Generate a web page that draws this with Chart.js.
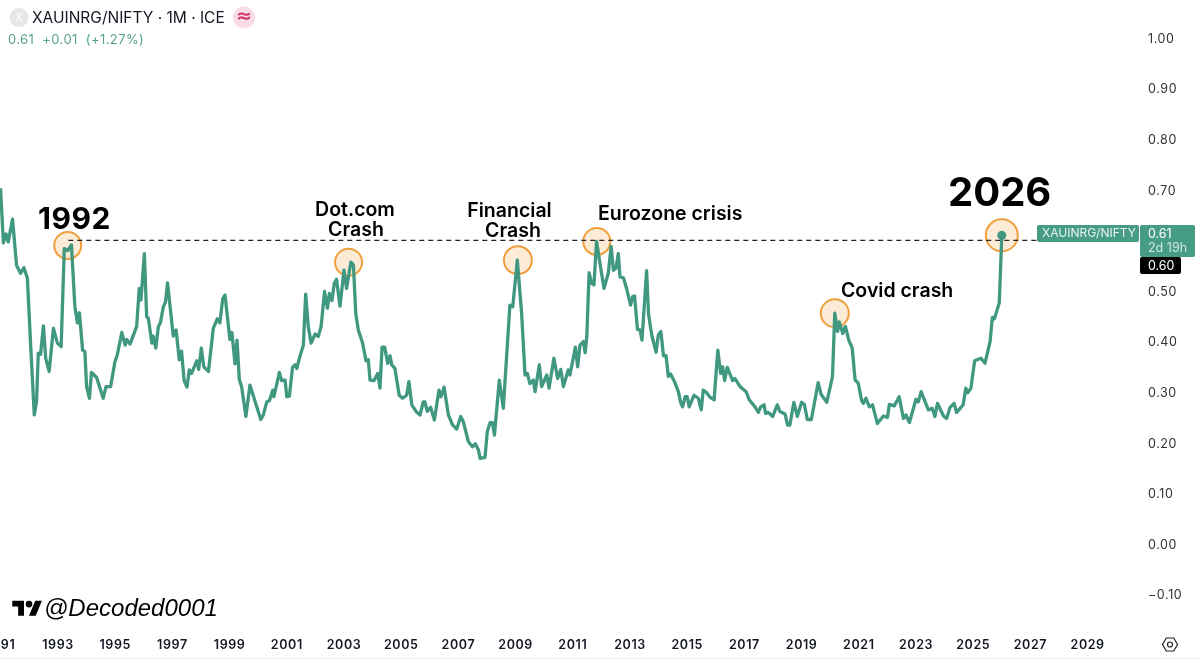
<!DOCTYPE html>
<html>
<head>
<meta charset="utf-8">
<title>XAUINRG/NIFTY</title>
<script src="https://cdn.jsdelivr.net/npm/chart.js@4/dist/chart.umd.min.js"></script>
<style>
  html, body { margin: 0; padding: 0; background: #fff; }
  #wrap { width: 1200px; height: 659px; overflow: hidden; }
</style>
</head>
<body>
<div id="wrap"><canvas id="myChart"></canvas></div>
<script>
// Monthly closes of the ratio, turning points only
const years = [
  1990.99, 1991.09, 1991.18, 1991.26, 1991.41, 1991.55, 1991.69, 1991.81, 1991.93, 1992.04,
  1992.17, 1992.25, 1992.31, 1992.39, 1992.49, 1992.57, 1992.69, 1992.84, 1992.98, 1993.11,
  1993.22, 1993.34, 1993.47, 1993.59, 1993.68, 1993.75, 1993.86, 1993.94, 1994.00, 1994.10,
  1994.17, 1994.35, 1994.58, 1994.68, 1994.84, 1994.99, 1995.07, 1995.23, 1995.35, 1995.41,
  1995.52, 1995.75, 1995.84, 1995.90, 1996.02, 1996.10, 1996.16, 1996.28, 1996.33, 1996.42,
  1996.51, 1996.58, 1996.68, 1996.76, 1996.83, 1997.03, 1997.13, 1997.24, 1997.32, 1997.41,
  1997.51, 1997.59, 1997.67, 1997.85, 1997.92, 1998.01, 1998.10, 1998.26, 1998.43, 1998.57,
  1998.66, 1998.76, 1998.84, 1999.01, 1999.08, 1999.19, 1999.26, 1999.34, 1999.42, 1999.57,
  1999.71, 2000.09, 2000.18, 2000.30, 2000.39, 2000.51, 2000.55, 2000.74, 2000.82, 2000.94,
  2001.00, 2001.09, 2001.20, 2001.29, 2001.35, 2001.44, 2001.58, 2001.66, 2001.75, 2001.85,
  2001.99, 2002.10, 2002.20, 2002.32, 2002.42, 2002.49, 2002.58, 2002.66, 2002.74, 2002.86,
  2003.00, 2003.09, 2003.24, 2003.33, 2003.41, 2003.50, 2003.65, 2003.77, 2003.85, 2003.91,
  2004.05, 2004.18, 2004.26, 2004.33, 2004.42, 2004.53, 2004.61, 2004.67, 2004.78, 2004.93,
  2005.05, 2005.19, 2005.27, 2005.37, 2005.52, 2005.66, 2005.77, 2005.83, 2005.91, 2006.03,
  2006.16, 2006.32, 2006.39, 2006.50, 2006.65, 2006.79, 2006.94, 2007.08, 2007.17, 2007.35,
  2007.49, 2007.59, 2007.70, 2007.76, 2007.93, 2008.01, 2008.11, 2008.19, 2008.26, 2008.43,
  2008.57, 2008.80, 2008.90, 2009.06, 2009.21, 2009.33, 2009.41, 2009.50, 2009.62, 2009.68,
  2009.83, 2009.91, 2010.09, 2010.17, 2010.34, 2010.47, 2010.58, 2010.67, 2010.84, 2010.90,
  2011.09, 2011.17, 2011.25, 2011.37, 2011.43, 2011.49, 2011.57, 2011.66, 2011.74, 2011.83,
  2011.95, 2012.09, 2012.24, 2012.34, 2012.42, 2012.51, 2012.59, 2012.65, 2012.77, 2012.88,
  2013.02, 2013.09, 2013.16, 2013.26, 2013.35, 2013.42, 2013.58, 2013.65, 2013.76, 2013.91,
  2013.99, 2014.08, 2014.17, 2014.26, 2014.34, 2014.42, 2014.57, 2014.69, 2014.78, 2014.84,
  2014.93, 2015.00, 2015.07, 2015.24, 2015.39, 2015.49, 2015.56, 2015.68, 2015.80, 2015.94,
  2016.07, 2016.17, 2016.24, 2016.31, 2016.40, 2016.59, 2016.67, 2016.85, 2017.06, 2017.17,
  2017.37, 2017.49, 2017.57, 2017.69, 2017.74, 2017.84, 2017.99, 2018.15, 2018.24, 2018.42,
  2018.51, 2018.59, 2018.73, 2018.85, 2019.00, 2019.10, 2019.20, 2019.34, 2019.58, 2019.68,
  2019.88, 2020.08, 2020.16, 2020.26, 2020.32, 2020.44, 2020.53, 2020.65, 2020.77, 2020.87,
  2020.98, 2021.10, 2021.16, 2021.25, 2021.37, 2021.48, 2021.65, 2021.86, 2022.00, 2022.07,
  2022.24, 2022.41, 2022.56, 2022.65, 2022.77, 2023.00, 2023.08, 2023.18, 2023.43, 2023.57,
  2023.66, 2023.75, 2023.96, 2024.07, 2024.19, 2024.33, 2024.42, 2024.65, 2024.74, 2024.81,
  2024.92, 2025.05, 2025.27, 2025.41, 2025.59, 2025.67, 2025.74, 2025.91, 2026.00
];
const ratios = [
  0.703, 0.595, 0.613, 0.597, 0.642, 0.551, 0.535, 0.546, 0.525, 0.397,
  0.255, 0.281, 0.377, 0.375, 0.431, 0.367, 0.341, 0.426, 0.397, 0.390,
  0.584, 0.580, 0.591, 0.469, 0.437, 0.457, 0.383, 0.380, 0.311, 0.288,
  0.339, 0.329, 0.288, 0.311, 0.311, 0.360, 0.373, 0.418, 0.393, 0.404,
  0.395, 0.430, 0.505, 0.482, 0.574, 0.449, 0.446, 0.397, 0.411, 0.387,
  0.430, 0.437, 0.468, 0.479, 0.516, 0.411, 0.423, 0.364, 0.381, 0.323,
  0.310, 0.344, 0.337, 0.362, 0.345, 0.387, 0.350, 0.341, 0.426, 0.445,
  0.437, 0.485, 0.492, 0.404, 0.418, 0.356, 0.403, 0.325, 0.311, 0.252,
  0.314, 0.246, 0.255, 0.281, 0.283, 0.304, 0.291, 0.339, 0.323, 0.324,
  0.291, 0.292, 0.349, 0.354, 0.347, 0.367, 0.393, 0.494, 0.430, 0.397,
  0.415, 0.410, 0.430, 0.499, 0.466, 0.495, 0.481, 0.515, 0.523, 0.470,
  0.541, 0.505, 0.557, 0.551, 0.456, 0.423, 0.397, 0.362, 0.364, 0.324,
  0.323, 0.337, 0.308, 0.389, 0.389, 0.357, 0.372, 0.354, 0.347, 0.294,
  0.288, 0.294, 0.321, 0.275, 0.262, 0.255, 0.281, 0.281, 0.262, 0.270,
  0.245, 0.304, 0.291, 0.310, 0.255, 0.236, 0.227, 0.252, 0.242, 0.202,
  0.192, 0.198, 0.186, 0.169, 0.171, 0.222, 0.240, 0.240, 0.215, 0.324,
  0.268, 0.472, 0.469, 0.561, 0.456, 0.334, 0.337, 0.317, 0.324, 0.301,
  0.354, 0.311, 0.334, 0.308, 0.367, 0.327, 0.345, 0.311, 0.344, 0.334,
  0.389, 0.350, 0.393, 0.400, 0.378, 0.410, 0.536, 0.515, 0.512, 0.598,
  0.555, 0.505, 0.535, 0.588, 0.541, 0.545, 0.574, 0.528, 0.526, 0.505,
  0.472, 0.489, 0.490, 0.424, 0.423, 0.403, 0.540, 0.453, 0.413, 0.379,
  0.413, 0.420, 0.372, 0.372, 0.331, 0.336, 0.319, 0.301, 0.278, 0.271,
  0.291, 0.291, 0.271, 0.294, 0.288, 0.265, 0.304, 0.299, 0.290, 0.285,
  0.383, 0.337, 0.350, 0.323, 0.349, 0.323, 0.327, 0.311, 0.301, 0.285,
  0.271, 0.260, 0.271, 0.275, 0.258, 0.260, 0.252, 0.275, 0.262, 0.257,
  0.235, 0.235, 0.280, 0.252, 0.280, 0.275, 0.246, 0.246, 0.319, 0.296,
  0.280, 0.331, 0.456, 0.420, 0.439, 0.416, 0.430, 0.403, 0.387, 0.324,
  0.318, 0.283, 0.278, 0.288, 0.271, 0.275, 0.238, 0.253, 0.250, 0.276,
  0.273, 0.291, 0.248, 0.255, 0.240, 0.286, 0.281, 0.301, 0.265, 0.268,
  0.252, 0.278, 0.253, 0.248, 0.270, 0.278, 0.260, 0.275, 0.308, 0.299,
  0.308, 0.362, 0.367, 0.357, 0.400, 0.448, 0.445, 0.476, 0.610
];

// Tick labels on both axes
const yearTicks = [1991, 1993, 1995, 1997, 1999, 2001, 2003, 2005, 2007, 2009, 2011, 2013, 2015, 2017, 2019, 2021, 2023, 2025, 2027, 2029];
const ratioTicks = [1.0, 0.9, 0.8, 0.7, 0.6, 0.5, 0.4, 0.3, 0.2, 0.1, 0.0, -0.1];

// Highlighted peaks and the horizontal level through them
const peakYears = [1993.34, 2003.16, 2009.08, 2011.84, 2020.16, 2026.00];
const peakRatios = [0.590, 0.557, 0.561, 0.598, 0.456, 0.610];
const levelYears = [1993.36, 2027.23];
const levelRatios = [0.60, 0.60];
const lastYear = [2026.00];
const lastRatio = [0.61];

const GREEN = '#419880';

function toPoints(xs, ys) {
    return xs.map((x, i) => ({ x: x, y: ys[i] }));
}

// Small helper for the overlay text
function label(ctx, text, x, y, font, color, align, spacing) {
    ctx.font = font;
    ctx.fillStyle = color;
    ctx.textAlign = align || 'left';
    ctx.textBaseline = 'middle';
    ctx.letterSpacing = spacing || '0px';
    ctx.fillText(text, x, y);
    ctx.letterSpacing = '0px';
}

function chip(ctx, x, y, w, h, color) {
    ctx.fillStyle = color;
    ctx.beginPath();
    ctx.roundRect(x, y, w, h, 2);
    ctx.fill();
}

// Header, callouts, price chips, watermark and settings icon
const overlay = {
    id: 'overlay',
    beforeDraw(chart) {
        // the time axis is set slightly wider than the font's default
        chart.ctx.letterSpacing = '0.6px';
    },
    afterDraw(chart) {
        const ctx = chart.ctx;
        ctx.save();

        // symbol row
        ctx.fillStyle = '#e6e6e6';
        ctx.beginPath();
        ctx.arc(19, 17.5, 9.5, 0, Math.PI * 2);
        ctx.fill();
        label(ctx, 'X', 19, 18, '500 10px Inter', '#fff', 'center');
        label(ctx, 'XAUINRG/NIFTY · 1M · ICE', 32, 18, '400 15.5px Inter', '#131722');
        ctx.fillStyle = '#f8dce6';
        ctx.beginPath();
        ctx.arc(244, 17.5, 11, 0, Math.PI * 2);
        ctx.fill();
        label(ctx, '≈', 244, 17, '700 19px "DejaVu Sans"', '#d1356c', 'center');
        label(ctx, '0.61  +0.01  (+1.27%)', 8, 40.5, '400 13px Inter', '#57a28e', 'left', '0.4px');

        // callouts
        label(ctx, '1992', 38, 220, '700 30px Inter', '#000', 'left', '0.5px');
        label(ctx, '2026', 948, 194, '700 40px Inter', '#000');
        const callout = '600 19.5px Inter';
        label(ctx, 'Dot.com', 355, 210.5, callout, '#000', 'center');
        label(ctx, 'Crash', 356, 230.5, callout, '#000', 'center');
        label(ctx, 'Financial', 509.5, 211, callout, '#000', 'center');
        label(ctx, 'Crash', 513, 231, callout, '#000', 'center');
        label(ctx, 'Eurozone crisis', 598, 214.5, callout, '#000');
        label(ctx, 'Covid crash', 841, 291.5, callout, '#000');

        // chips on the price scale
        chip(ctx, 1037, 225, 102, 17, '#479c86');
        chip(ctx, 1140, 225, 55, 32, '#479c86');
        chip(ctx, 1140, 257, 41, 17, '#000');
        label(ctx, 'XAUINRG/NIFTY', 1042, 233.5, '400 12px Inter', '#e9f4f1');
        label(ctx, '0.61', 1148, 234, '400 12.5px Inter', '#fff');
        label(ctx, '2d 19h', 1148, 248.5, '400 12.5px Inter', '#cfe6df');
        label(ctx, '0.60', 1148, 266, '400 12.5px Inter', '#fff');

        // watermark
        ctx.save();
        ctx.translate(12.3, 597.4);
        ctx.scale(0.835, 0.835);
        ctx.fillStyle = '#000';
        ctx.fill(new Path2D('M14 22H7V11H0V4h14v18zM28 22h-8l7.5-18h8L28 22z'));
        ctx.beginPath();
        ctx.arc(20, 8, 4, 0, Math.PI * 2);
        ctx.fill();
        ctx.restore();
        label(ctx, '@Decoded0001', 44, 609, 'italic 400 24px "Liberation Sans"', '#000');

        // settings hexagon
        ctx.strokeStyle = '#222';
        ctx.lineWidth = 1.2;
        ctx.beginPath();
        for (let i = 0; i < 6; i++) {
            const a = i * Math.PI / 3;
            const px = 1170 + 7.5 * Math.cos(a);
            const py = 644.5 + 7.5 * Math.sin(a);
            if (i === 0) ctx.moveTo(px, py); else ctx.lineTo(px, py);
        }
        ctx.closePath();
        ctx.stroke();
        ctx.beginPath();
        ctx.arc(1170, 644.5, 2.5, 0, Math.PI * 2);
        ctx.stroke();

        // bottom edge
        ctx.fillStyle = '#eeeeee';
        ctx.fillRect(0, 658, 1200, 1);
        ctx.restore();
    }
};

const ctx = document.getElementById('myChart').getContext('2d');

new Chart(ctx, {
    type: 'line',
    plugins: [overlay],
    data: {
        datasets: [
            {
                label: 'XAUINRG/NIFTY',
                data: toPoints(years, ratios),
                borderColor: GREEN,
                borderWidth: 3.3,
                borderJoinStyle: 'round',
                pointRadius: 0,
                tension: 0,
                order: 2
            },
            {
                label: 'Level',
                data: toPoints(levelYears, levelRatios),
                borderColor: '#222',
                borderWidth: 1.2,
                borderDash: [5, 4],
                pointRadius: 0,
                order: 3
            },
            {
                label: 'Peaks',
                data: toPoints(peakYears, peakRatios),
                showLine: false,
                pointRadius: [13.5, 13.5, 14, 13.5, 14, 16],
                pointBorderWidth: 2,
                pointBorderColor: '#ef9f3c',
                pointBackgroundColor: 'rgba(245, 190, 120, 0.3)',
                order: 4
            },
            {
                label: 'Last',
                data: toPoints(lastYear, lastRatio),
                showLine: false,
                pointRadius: 4.5,
                pointBorderWidth: 0,
                pointBackgroundColor: GREEN,
                order: 1
            }
        ]
    },
    options: {
        responsive: true,
        maintainAspectRatio: false,
        animation: false,
        layout: { padding: 0, autoPadding: false },
        plugins: { legend: { display: false }, tooltip: { enabled: false } },
        scales: {
            x: {
                type: 'linear',
                min: 1990.972,
                max: 2030.832,
                grid: { display: false, drawTicks: false },
                border: { display: false },
                afterBuildTicks: s => { s.ticks = yearTicks.map(v => ({ value: v })); },
                afterFit: s => { s.height = 29; s.paddingLeft = 0; s.paddingRight = 0; },
                ticks: {
                    autoSkip: false,
                    maxRotation: 0,
                    padding: 8,
                    color: '#131722',
                    font: { family: 'Inter', size: 12.5, weight: '600' },
                    callback: v => String(v)
                }
            },
            y: {
                position: 'right',
                min: -0.17,
                max: 1.0751,
                grid: { display: false, drawTicks: false },
                border: { display: false },
                afterBuildTicks: s => { s.ticks = ratioTicks.map(v => ({ value: v })); },
                afterFit: s => { s.width = 60; s.paddingTop = 0; s.paddingBottom = 0; },
                ticks: {
                    autoSkip: false,
                    padding: 8,
                    labelOffset: 1,
                    color: '#333',
                    font: { family: 'Inter', size: 12.5 },
                    callback: v => v.toFixed(2).replace('-', '−')
                }
            }
        }
    }
});
</script>
</body>
</html>
